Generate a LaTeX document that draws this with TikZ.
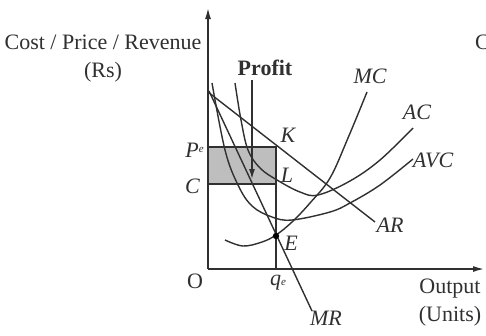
\documentclass[tikz,border=0pt]{standalone}
\usepackage{fontspec}
\setmainfont{Liberation Serif}
\usetikzlibrary{arrows.meta}
\definecolor{ink}{HTML}{303030}
\definecolor{shade}{HTML}{BEBEBE}
\begin{document}
\begin{tikzpicture}[x=1pt,y=-1pt,
  curve/.style={draw=ink,line width=1.4pt},
  axis/.style={draw=ink,line width=1.4pt,-{Latex[length=11pt,width=6pt]}},
  lbl/.style={inner sep=0pt,font=\fontsize{22}{26}\selectfont,text=ink},
  ilbl/.style={lbl,font=\fontsize{22}{26}\selectfont\itshape}]
\useasboundingbox (0,0) rectangle (486,335);
\fill[white] (0,0) rectangle (486,335);
% key points
\coordinate (O) at (208,269);
\coordinate (ytop) at (208,8);
\coordinate (xend) at (484,269);
\coordinate (K) at (276,147);
\coordinate (L) at (276,184);
\coordinate (E) at (276,236);
\coordinate (q) at (276,269);
\coordinate (Pe) at (208,147);
\coordinate (Cc) at (208,184);
\coordinate (Ptop) at (252,80);
\coordinate (Pbot) at (252,179);
% profit rectangle
\filldraw[fill=shade,draw=ink,line width=1.4pt] (Pe) rectangle (L);
\draw[curve] (q) -- (K);
% curves
\draw[curve] (208,92) -- (375,222); % AR
\draw[curve] (209,91) -- (312,311); % MR
\draw[curve] plot[smooth,tension=0.6] coordinates {(212,83) (225,150) (238,185) (252,206) (272,217) (292,220) (330,212) (350,203) (380,185) (413,159)}; % AVC
\draw[curve] plot[smooth,tension=0.6] coordinates {(235,83) (241,120) (248,150) (260,168) (277,180) (300,192) (318,195) (350,181) (380,160) (413,128)}; % AC
\draw[curve] plot[smooth,tension=0.6] coordinates {(225,240) (243,246) (262,242) (276,235) (292,222) (310,203) (330,178) (348,138) (367,92)}; % MC
% profit arrow
\draw[draw=ink,line width=1.4pt,-{Latex[length=10pt,width=6pt]}] (Ptop) -- (Pbot);
% axes
\draw[axis] (O) -- (ytop);
\draw[axis] (O) -- (xend);
\fill[black] (E) circle (3.2pt);
% labels
\node[lbl] (ylab1) at (103,42) {Cost / Price / Revenue};
\node[lbl] (ylab2) at (103,72) {(Rs)};
\node[lbl,anchor=west] (cut) at (475,42) {C};
\node[lbl,font=\fontsize{22}{26}\selectfont\bfseries] (profit) at (265,68) {Profit};
\node[ilbl] (mc) at (370,76) {MC};
\node[ilbl] (ac) at (417,112) {AC};
\node[ilbl] (avc) at (433,160) {AVC};
\node[ilbl] (ar) at (390,225) {AR};
\node[ilbl] (mr) at (326,318) {MR};
\node[ilbl] (kl) at (288,135) {K};
\node[ilbl] (ll) at (287,175) {L};
\node[ilbl] (el) at (291,243) {E};
\node[ilbl,anchor=east] (pl) at (204,150) {P\raisebox{5pt}{\fontsize{11}{11}\selectfont e}};
\node[ilbl,anchor=east] (cl) at (200,186) {C};
\node[lbl] (ol) at (195,281) {O};
\node[ilbl] (ql) at (278,283) {q\raisebox{0pt}{\fontsize{11}{11}\selectfont e}};
\node[lbl] (out1) at (450,289) {Output};
\node[lbl] (out2) at (450,316) {(Units)};
\end{tikzpicture}
\end{document}
